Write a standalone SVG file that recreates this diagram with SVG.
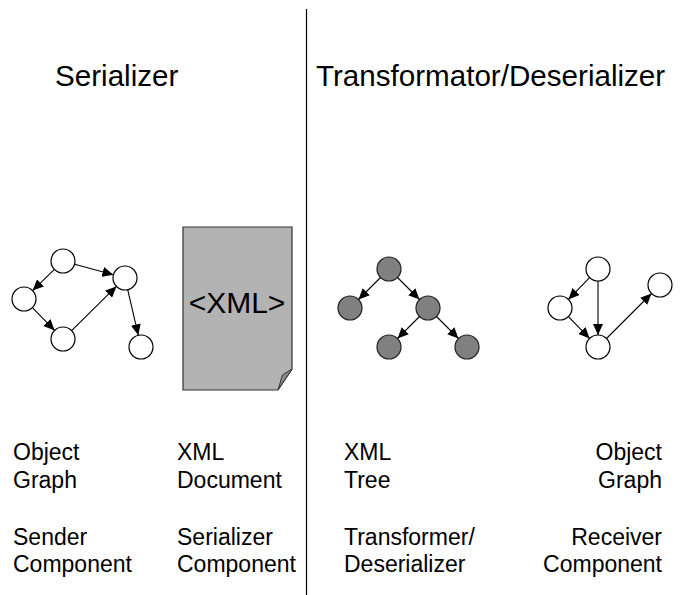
<svg xmlns="http://www.w3.org/2000/svg" width="688" height="595" viewBox="0 0 688 595">
  <style>
    text { font-family: "Liberation Sans", Arial, Helvetica, sans-serif; fill: #000; }
    .title { font-size: 29.6px; }
    .label { font-size: 23px; }
    .end { text-anchor: end; }
    .obj { fill: #fff; stroke: #000; stroke-width: 1.2; }
    .xml { fill: #808080; stroke: #222; stroke-width: 1.2; }
    .edge { stroke: #000; stroke-width: 1.1; fill: none; marker-end: url(#arrow); }
  </style>
  <defs>
    <marker id="arrow" markerUnits="userSpaceOnUse" markerWidth="12" markerHeight="10" refX="11" refY="5" orient="auto">
      <path d="M0,0 L11,5 L0,10 Z" fill="#000"/>
    </marker>
  </defs>

  <rect width="688" height="595" fill="#fff"/>

  <!-- divider between the two sides -->
  <line id="divider" x1="306.5" y1="9" x2="306.5" y2="595" stroke="#000" stroke-width="1.2"/>

  <!-- headings -->
  <text class="title" x="55" y="86">Serializer</text>
  <text class="title" x="316" y="86">Transformator/Deserializer</text>

  <!-- sender object graph -->
  <g id="sender-graph">
    <circle class="obj" cx="63" cy="261" r="12"/>
    <circle class="obj" cx="24" cy="299" r="12"/>
    <circle class="obj" cx="63" cy="339" r="12"/>
    <circle class="obj" cx="125" cy="278" r="12"/>
    <circle class="obj" cx="141" cy="347" r="12"/>
  </g>

  <!-- XML document page -->
  <g id="xml-document">
    <path d="M183,227 H292 V369 L278,390 H183 Z" fill="#b3b3b3" stroke="#333" stroke-width="1.2"/>
    <path d="M278,390 L282.5,375 L292,369 Z" fill="#8c8c8c" stroke="#333" stroke-width="1"/>
    <text x="237" y="313" font-size="30" text-anchor="middle">&lt;XML&gt;</text>
  </g>

  <!-- XML tree -->
  <g id="xml-tree">
    <circle class="xml" cx="389" cy="269" r="12"/>
    <circle class="xml" cx="350" cy="308" r="12"/>
    <circle class="xml" cx="428" cy="308" r="12"/>
    <circle class="xml" cx="389" cy="347" r="12"/>
    <circle class="xml" cx="467" cy="347" r="12"/>
  </g>

  <!-- receiver object graph -->
  <g id="receiver-graph">
    <circle class="obj" cx="598" cy="269" r="12"/>
    <circle class="obj" cx="560" cy="308" r="12"/>
    <circle class="obj" cx="598" cy="347" r="12"/>
    <circle class="obj" cx="660" cy="285" r="12"/>
  </g>

  <!-- connectors -->
  <g id="connectors">
    <line class="edge" x1="54.4" y1="269.4" x2="32.6" y2="290.6"/>
    <line class="edge" x1="32.4" y1="307.6" x2="54.6" y2="330.4"/>
    <line class="edge" x1="71.6" y1="330.6" x2="116.4" y2="286.4"/>
    <line class="edge" x1="74.6" y1="264.2" x2="113.4" y2="274.8"/>
    <line class="edge" x1="127.7" y1="289.7" x2="138.3" y2="335.3"/>

    <line class="edge" x1="380.5" y1="277.5" x2="358.5" y2="299.5"/>
    <line class="edge" x1="397.5" y1="277.5" x2="419.5" y2="299.5"/>
    <line class="edge" x1="419.5" y1="316.5" x2="397.5" y2="338.5"/>
    <line class="edge" x1="436.5" y1="316.5" x2="458.5" y2="338.5"/>

    <line class="edge" x1="589.6" y1="277.6" x2="568.4" y2="299.4"/>
    <line class="edge" x1="598" y1="281" x2="598" y2="335"/>
    <line class="edge" x1="568.4" y1="316.6" x2="589.6" y2="338.4"/>
    <line class="edge" x1="606.5" y1="338.5" x2="651.5" y2="293.5"/>
  </g>

  <!-- captions -->
  <g id="captions">
    <text class="label" x="13" y="460">Object</text>
    <text class="label" x="13" y="488">Graph</text>
    <text class="label" x="13" y="545">Sender</text>
    <text class="label" x="13" y="572">Component</text>

    <text class="label" x="177" y="460">XML</text>
    <text class="label" x="177" y="488">Document</text>
    <text class="label" x="177" y="545">Serializer</text>
    <text class="label" x="177" y="572">Component</text>

    <text class="label" x="344" y="460">XML</text>
    <text class="label" x="344" y="488">Tree</text>
    <text class="label" x="344" y="545">Transformer/</text>
    <text class="label" x="344" y="572">Deserializer</text>

    <text class="label end" x="662" y="460">Object</text>
    <text class="label end" x="662" y="488">Graph</text>
    <text class="label end" x="662" y="545">Receiver</text>
    <text class="label end" x="662" y="572">Component</text>
  </g>
</svg>
